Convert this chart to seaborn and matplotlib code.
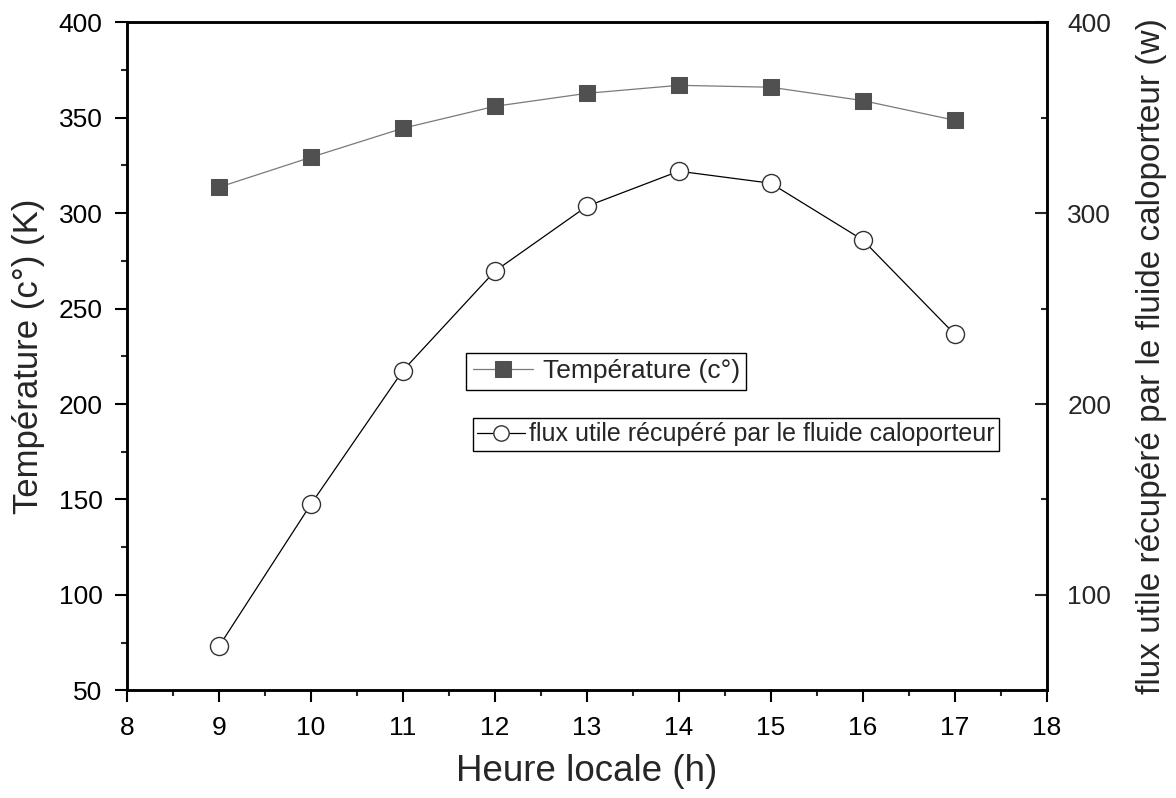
import numpy as np
import pandas as pd
import matplotlib
matplotlib.use("Agg")
import matplotlib.pyplot as plt
from matplotlib.ticker import MultipleLocator
import seaborn as sns

# values
heures = [9, 10, 11, 12, 13, 14, 15, 16, 17]
temperature = [313.6, 329.3, 344.5, 356.0, 362.8, 367.0, 366.0, 359.0, 348.7]
flux = [73, 147.5, 217.5, 269.6, 303.6, 322.0, 315.7, 286.0, 236.6]

df = pd.DataFrame({"heure": heures, "temp": temperature, "flux": flux})

sns.set_style("ticks")
plt.rcParams["font.family"] = ["Liberation Sans", "DejaVu Sans"]

fig = plt.figure(figsize=(11.76, 7.98), dpi=100)
ax = fig.add_axes([0.108, 0.135, 0.782, 0.837])
ax2 = ax.twinx()

sns.lineplot(data=df, x="heure", y="temp", ax=ax, color="#7a7a7a", lw=0.9,
             marker="s", markersize=11.3, markerfacecolor="#505050",
             markeredgecolor="#505050", label="Température (c°)")
sns.lineplot(data=df, x="heure", y="flux", ax=ax2, color="black", lw=0.9,
             marker="o", markersize=13, markerfacecolor="white",
             markeredgecolor="#333333", markeredgewidth=1.0,
             label="flux utile récupéré par le fluide caloporteur")

ax.set_xlim(8, 18)
ax.set_ylim(50, 400)
ax2.set_ylim(50, 400)

ax.xaxis.set_major_locator(MultipleLocator(1))
ax.xaxis.set_minor_locator(MultipleLocator(0.5))
ax.yaxis.set_major_locator(MultipleLocator(50))
ax.yaxis.set_minor_locator(MultipleLocator(25))
ax2.yaxis.set_major_locator(MultipleLocator(100))
ax2.yaxis.set_minor_locator(MultipleLocator(50))
ax2.set_yticks([100, 200, 300, 400])

for a in (ax, ax2):
    for s in a.spines.values():
        s.set_linewidth(1.8)
        s.set_color("black")

ax.tick_params(axis="both", which="major", direction="out", length=8.5, width=1.5,
               labelsize=19, colors="black")
ax.tick_params(axis="x", which="major", pad=10)
ax.tick_params(axis="y", which="major", pad=9)
ax.tick_params(axis="both", which="minor", direction="out", length=4.5, width=1.5)
ax.tick_params(axis="y", right=False)
ax2.tick_params(axis="y", which="major", direction="in", length=8.5, width=1.5,
                labelsize=19, pad=15)
ax2.tick_params(axis="y", which="minor", direction="in", length=4.5, width=1.5)

ax.set_xlabel("Heure locale (h)", fontsize=26.5, labelpad=10)
ax.set_ylabel("Température (c°) (K)", fontsize=25, labelpad=10)
ax2.set_ylabel("flux utile récupéré par le fluide caloporteur (w)", fontsize=24,
               labelpad=18)

leg1 = ax.legend(loc="center", bbox_to_anchor=(0.521, 0.4775), fontsize=19,
                 frameon=True, fancybox=False, framealpha=1, edgecolor="black",
                 handlelength=2.3, borderpad=0.25, borderaxespad=0,
                 handletextpad=0.35)
leg1.get_frame().set_linewidth(1.0)
leg2 = ax2.legend(loc="center", bbox_to_anchor=(0.662, 0.383), fontsize=18,
                  frameon=True, fancybox=False, framealpha=1, edgecolor="black",
                  handlelength=1.9, borderpad=0.18, borderaxespad=0,
                  handletextpad=0.15, markerscale=0.85)
leg2.get_frame().set_linewidth(1.0)

fig.savefig("out.png", dpi=100)
